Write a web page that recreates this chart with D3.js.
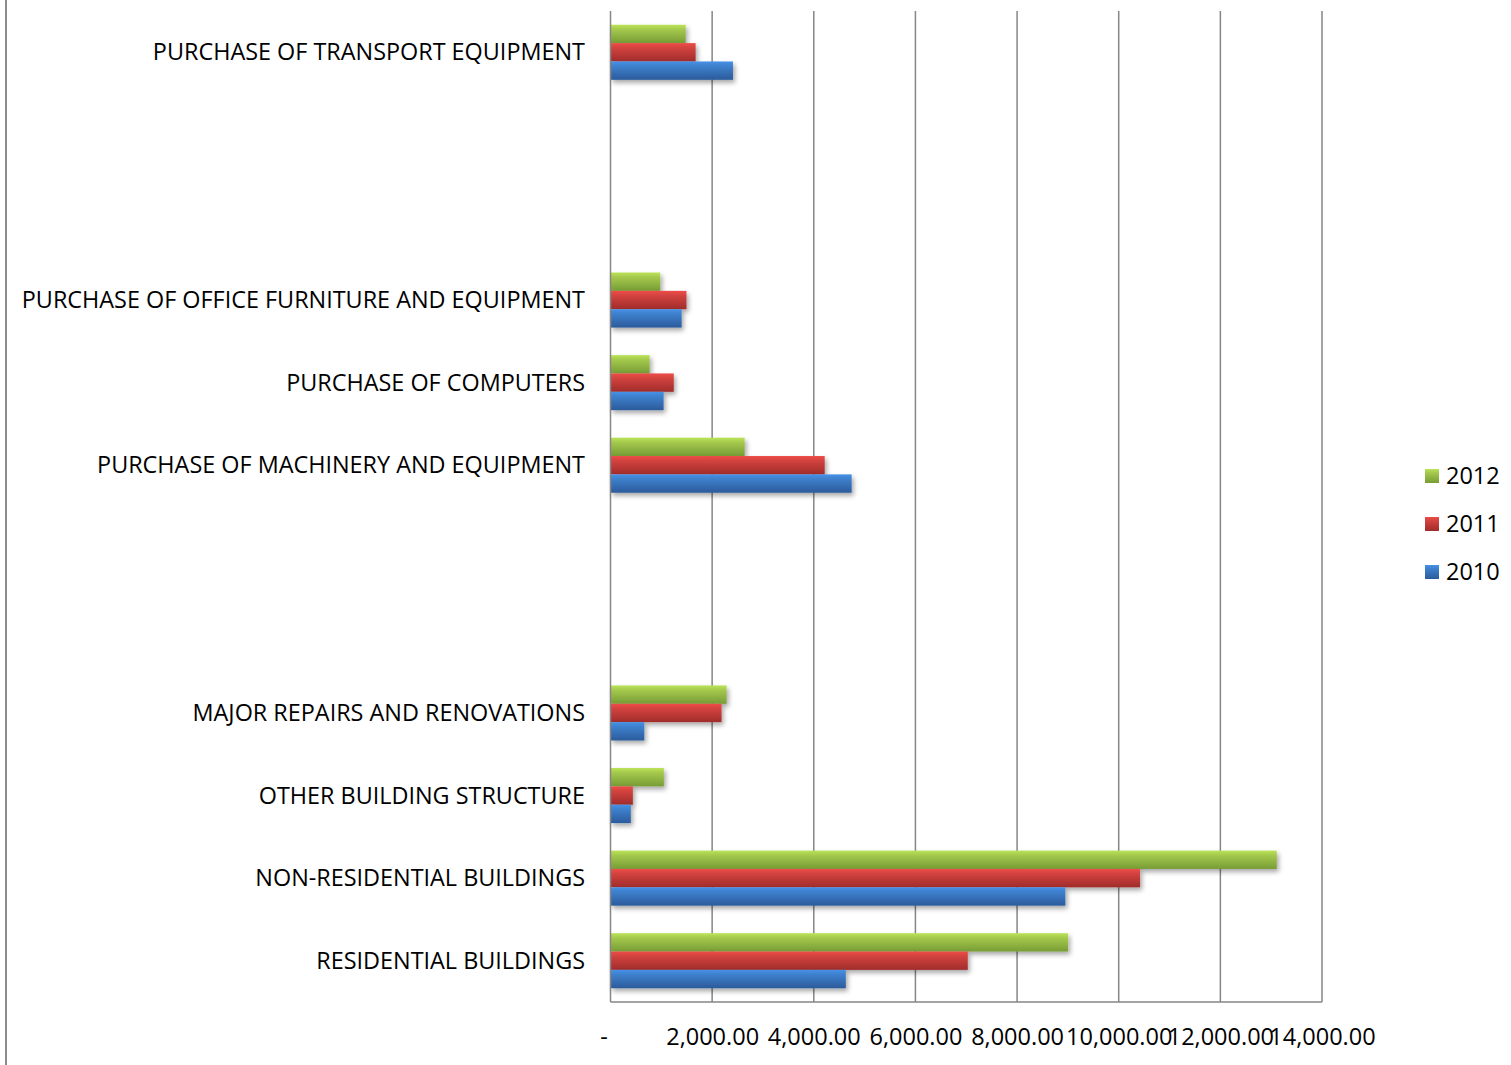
<!DOCTYPE html>
<html>
<head>
<meta charset="utf-8">
<script src="https://cdn.jsdelivr.net/npm/d3@7"></script>
<style>
  html, body { margin: 0; padding: 0; background: #fff; }
  svg { display: block; }
  .cat { font-family: "Open Sans", "DejaVu Sans", sans-serif; font-size: 23.4px; fill: #000; }
  .tick-lbl { font-family: "Open Sans", sans-serif; font-size: 23.5px; fill: #000; }
  .leg { font-family: "Open Sans", sans-serif; font-size: 23.5px; fill: #000; }
</style>
</head>
<body>
<svg id="chart" width="1511" height="1065"></svg>
<script>
// Capital expenditure by item, bottom to top (blank slots are spacer rows)
const categories = [
  "RESIDENTIAL BUILDINGS",
  "NON-RESIDENTIAL BUILDINGS",
  "OTHER BUILDING STRUCTURE",
  "MAJOR REPAIRS AND RENOVATIONS",
  " ",
  "  ",
  "PURCHASE OF MACHINERY AND EQUIPMENT",
  "PURCHASE OF COMPUTERS",
  "PURCHASE OF OFFICE FURNITURE AND EQUIPMENT",
  "   ",
  "    ",
  "PURCHASE OF TRANSPORT EQUIPMENT"
];
const values2010 = [4630, 8950, 400, 665, null, null, 4745, 1045, 1400, null, null, 2410];
const values2011 = [7030, 10420, 440, 2185, null, null, 4215, 1245, 1495, null, null, 1675];
const values2012 = [9005, 13110, 1050, 2285, null, null, 2640, 770, 980, null, null, 1480];
const seriesNames = ["2010", "2011", "2012"];
const xTicks = [0, 2000, 4000, 6000, 8000, 10000, 12000, 14000];

const series = [
  { name: seriesNames[0], values: values2010, top: "#3e80cd", bot: "#2b5b9b" },
  { name: seriesNames[1], values: values2011, top: "#d3433f", bot: "#a02c2b" },
  { name: seriesNames[2], values: values2012, top: "#a5c94d", bot: "#779c35" }
];

const svg = d3.select("#chart");
const plotL = 610.5, plotR = 1322, plotT = 11, plotB = 1002;

const x = d3.scaleLinear().domain([0, 14000]).range([plotL, plotR]);
// categories run bottom-to-top
const y = d3.scaleBand().domain(categories).range([plotB, plotT]).paddingInner(1/3).paddingOuter(1/6);
const ySub = d3.scaleBand().domain(["2012", "2011", "2010"]).range([0, y.bandwidth()]);

const defs = svg.append("defs");
series.forEach((s, i) => {
  const g = defs.append("linearGradient").attr("id", "grad" + i)
    .attr("x1", 0).attr("y1", 0).attr("x2", 0).attr("y2", 1);
  g.append("stop").attr("offset", "0%").attr("stop-color", d3.color(s.top).brighter(0.35));
  g.append("stop").attr("offset", "25%").attr("stop-color", s.top);
  g.append("stop").attr("offset", "100%").attr("stop-color", s.bot);
});
const shadow = defs.append("filter").attr("id", "shadow")
  .attr("x", "-5%").attr("y", "-20%").attr("width", "115%").attr("height", "160%");
shadow.append("feGaussianBlur").attr("in", "SourceAlpha").attr("stdDeviation", 2.5);
shadow.append("feOffset").attr("dx", 2).attr("dy", 3).attr("result", "off");
shadow.append("feComponentTransfer").append("feFuncA").attr("type", "linear").attr("slope", 0.35);
const merge = shadow.append("feMerge");
merge.append("feMergeNode");
merge.append("feMergeNode").attr("in", "SourceGraphic");

// outer frame line on the left
svg.append("line").attr("x1", 6).attr("x2", 6).attr("y1", 0).attr("y2", 1065)
  .attr("stroke", "#8c8c8c").attr("stroke-width", 2);

// vertical gridlines
svg.append("g").selectAll("line").data(xTicks.slice(1)).join("line")
  .attr("x1", d => x(d)).attr("x2", d => x(d))
  .attr("y1", plotT).attr("y2", plotB)
  .attr("stroke", "#868686").attr("stroke-width", 1.5);

// bars
const groups = svg.append("g").selectAll("g")
  .data(series.slice().reverse()).join("g")
  .attr("fill", d => "url(#grad" + series.indexOf(d) + ")")
  .attr("filter", "url(#shadow)");
groups.selectAll("rect")
  .data(s => categories.map((c, i) => ({ cat: c, v: s.values[i], name: s.name })).filter(d => d.v != null))
  .join("rect")
  .attr("x", x(0))
  .attr("y", d => y(d.cat) + ySub(d.name))
  .attr("width", d => x(d.v) - x(0))
  .attr("height", ySub.bandwidth());

// value axis line and category axis line
svg.append("line").attr("x1", plotL).attr("x2", plotR).attr("y1", plotB).attr("y2", plotB)
  .attr("stroke", "#868686").attr("stroke-width", 1.5);
svg.append("line").attr("x1", plotL).attr("x2", plotL).attr("y1", plotT).attr("y2", plotB)
  .attr("stroke", "#868686").attr("stroke-width", 1.5);

// value axis labels
const fmt = d3.format(",.2f");
const xAxis = d3.axisBottom(x).tickValues(xTicks).tickSize(0).tickPadding(0)
  .tickFormat(d => d === 0 ? "-" : fmt(d));
const xg = svg.append("g").attr("transform", `translate(0,${plotB})`).call(xAxis);
xg.select(".domain").remove();
xg.selectAll("text").attr("class", "tick-lbl").attr("fill", null)
  .attr("y", 35).attr("dy", "0.35em")
  .attr("dx", d => d === 0 ? -7 : 0);

// category labels
svg.append("g").selectAll("text").data(categories.filter(c => c.trim() !== "")).join("text")
  .attr("class", "cat")
  .attr("x", 585)
  .attr("y", d => y(d) + y.bandwidth() / 2)
  .attr("dy", "0.35em")
  .attr("text-anchor", "end")
  .text(d => d);

// legend
const leg = svg.append("g").selectAll("g").data(series.slice().reverse()).join("g")
  .attr("transform", (d, i) => `translate(1425,${469 + i * 48})`);
leg.append("rect").attr("width", 14).attr("height", 14)
  .attr("fill", d => "url(#grad" + series.indexOf(d) + ")");
leg.append("text").attr("class", "leg").attr("x", 21).attr("y", 7).attr("dy", "0.35em")
  .text(d => d.name);
</script>
</body>
</html>
